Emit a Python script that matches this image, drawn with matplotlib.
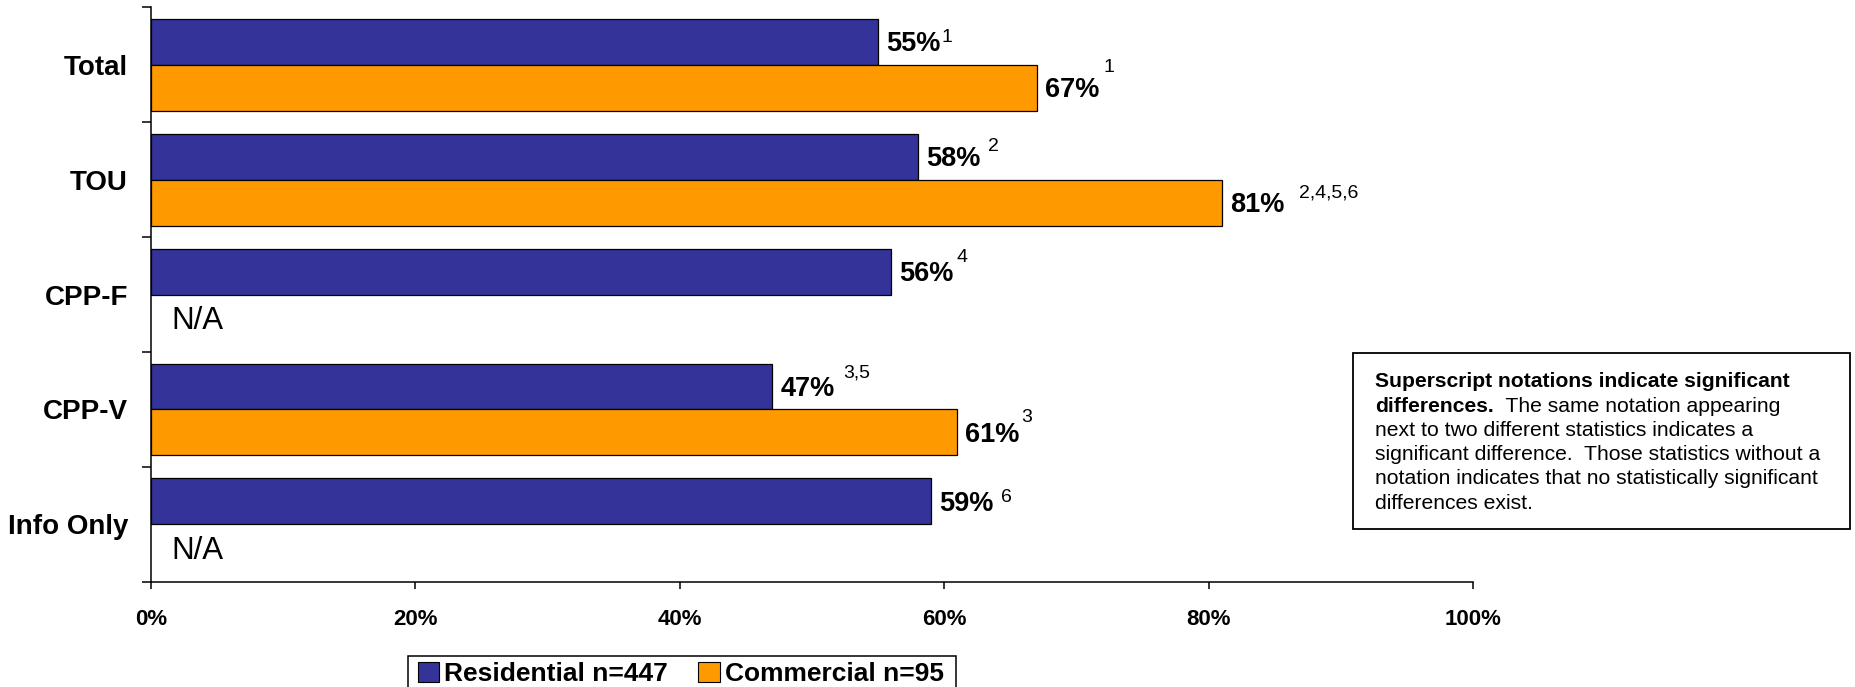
import matplotlib
matplotlib.use("Agg")
import matplotlib.pyplot as plt
from matplotlib.patches import Patch, Rectangle
import numpy as np

plt.rcParams['font.family'] = ['Liberation Sans', 'DejaVu Sans']

# ---- data -------------------------------------------------------------
categories = ["Total", "TOU", "CPP-F", "CPP-V", "Info Only"]
residential = [55, 58, 56, 47, 59]
commercial = [67, 81, None, 61, None]
residential_notes = ["1", "2", "4", "3,5", "6"]
commercial_notes = ["1", "2,4,5,6", "", "3", ""]
series_labels = ["Residential n=447", "Commercial n=95"]
x_ticks = [0, 20, 40, 60, 80, 100]
x_tick_labels = [f"{t}%" for t in x_ticks]

note_lines = [
    "Superscript notations indicate significant",
    "The same notation appearing",
    "next to two different statistics indicates a",
    "significant difference.  Those statistics without a",
    "notation indicates that no statistically significant",
    "differences exist.",
]

# superscript placement: (gap after value label, baseline shift), points
res_note_offsets = [(1.0, -0.1), (5.6, 4.5), (2.0, 6.7), (5.9, 6.5), (5.6, -0.8)]
com_note_offsets = [(3.2, 11.4), (10.6, 4.0), None, (0.8, 7.6), None]

RES_COLOR = "#333399"
COM_COLOR = "#FF9900"
W, H = 1856, 687

fig = plt.figure(figsize=(W / 100, H / 100), dpi=100)
ax = fig.add_axes([151 / W, 1 - 581.7 / H, 1322 / W, 574.2 / H])

y = np.arange(len(categories))
bh = 0.4

for i, (r, c) in enumerate(zip(residential, commercial)):
    yr = y[i] - bh / 2
    yc = y[i] + bh / 2
    ax.barh(yr, r, height=bh, color=RES_COLOR, edgecolor="black", linewidth=0.9)
    lab = ax.annotate(f"{r}%", xy=(r, yr), xytext=(5.8, -6.7),
                      textcoords="offset points", ha="left", va="baseline",
                      fontsize=19.5, fontweight="bold")
    if residential_notes[i]:
        dx, dy = res_note_offsets[i]
        ax.annotate(residential_notes[i], xy=(1, yr), xycoords=(lab, "data"),
                    xytext=(dx, dy), textcoords="offset points",
                    ha="left", va="baseline", fontsize=14)
    if c is None:
        ax.annotate("N/A", xy=(0, yc), xytext=(14.8, -8.2),
                    textcoords="offset points", ha="left", va="baseline",
                    fontsize=22.5)
        continue
    ax.barh(yc, c, height=bh, color=COM_COLOR, edgecolor="black", linewidth=0.9)
    lab = ax.annotate(f"{c}%", xy=(c, yc), xytext=(5.8, -6.7),
                      textcoords="offset points", ha="left", va="baseline",
                      fontsize=19.5, fontweight="bold")
    if commercial_notes[i]:
        dx, dy = com_note_offsets[i]
        ax.annotate(commercial_notes[i], xy=(1, yc), xycoords=(lab, "data"),
                    xytext=(dx, dy), textcoords="offset points",
                    ha="left", va="baseline", fontsize=14)

ax.set_xlim(0, 100)
ax.set_ylim(len(categories) - 0.5, -0.5)

ax.set_xticks(x_ticks, x_tick_labels)
for t in ax.get_xticklabels():
    t.set_fontweight("bold")
ax.tick_params(axis="x", length=5, width=1.1, pad=14.5, labelsize=16)

ax.set_yticks(np.arange(-0.5, len(categories), 1.0))
ax.set_yticklabels([])
ax.set_yticks(y, minor=True)
ax.set_yticklabels(categories, minor=True, fontweight="bold")
ax.tick_params(axis="y", which="major", length=6.5, width=1.1)
ax.tick_params(axis="y", which="minor", length=0, pad=16.5, labelsize=20)

for s in ("top", "right"):
    ax.spines[s].set_visible(False)
for s in ("left", "bottom"):
    ax.spines[s].set_linewidth(1.1)

# legend along the bottom edge; its frame runs past the figure's lower edge
handles = [Patch(facecolor=RES_COLOR, edgecolor="black", linewidth=0.8, label=series_labels[0]),
           Patch(facecolor=COM_COLOR, edgecolor="black", linewidth=0.8, label=series_labels[1])]
leg = fig.legend(handles=handles, loc="upper left", bbox_to_anchor=(418 / W, 1 - 662 / H),
                 ncol=2, prop={"size": 19, "weight": "bold"}, frameon=False,
                 handlelength=0.8, handleheight=0.8, handletextpad=0.2,
                 columnspacing=1.15, borderpad=0, borderaxespad=0)
fig.add_artist(Rectangle((408 / W, -0.1), (956 - 408) / W, 0.1 + 1 - 656 / H,
                         transform=fig.transFigure, fill=False, edgecolor="black",
                         linewidth=1.1))

# explanatory note box
fig.add_artist(Rectangle((1353.3 / W, 1 - 529 / H), (1850 - 1353.3) / W, (529 - 353.3) / H,
                         transform=fig.transFigure, fill=False, edgecolor="black",
                         linewidth=1.3))
x0 = 1375 / W
base0 = 387.3
pitch = 24.3
fs = 15.2
fig.text(x0, 1 - base0 / H, note_lines[0], fontsize=fs, fontweight="bold",
         ha="left", va="baseline")
b1 = 1 - (base0 + pitch) / H
bold2 = fig.text(x0, b1, "differences.", fontsize=fs, fontweight="bold",
                 ha="left", va="baseline")
ax.annotate("  " + note_lines[1], xy=(1, b1), xycoords=(bold2, "figure fraction"),
            xytext=(0, 0), textcoords="offset points", fontsize=fs,
            ha="left", va="baseline", annotation_clip=False)
for k, line in enumerate(note_lines[2:], start=2):
    fig.text(x0, 1 - (base0 + k * pitch) / H, line, fontsize=fs,
             ha="left", va="baseline")

fig.savefig("out.png", dpi=100)
